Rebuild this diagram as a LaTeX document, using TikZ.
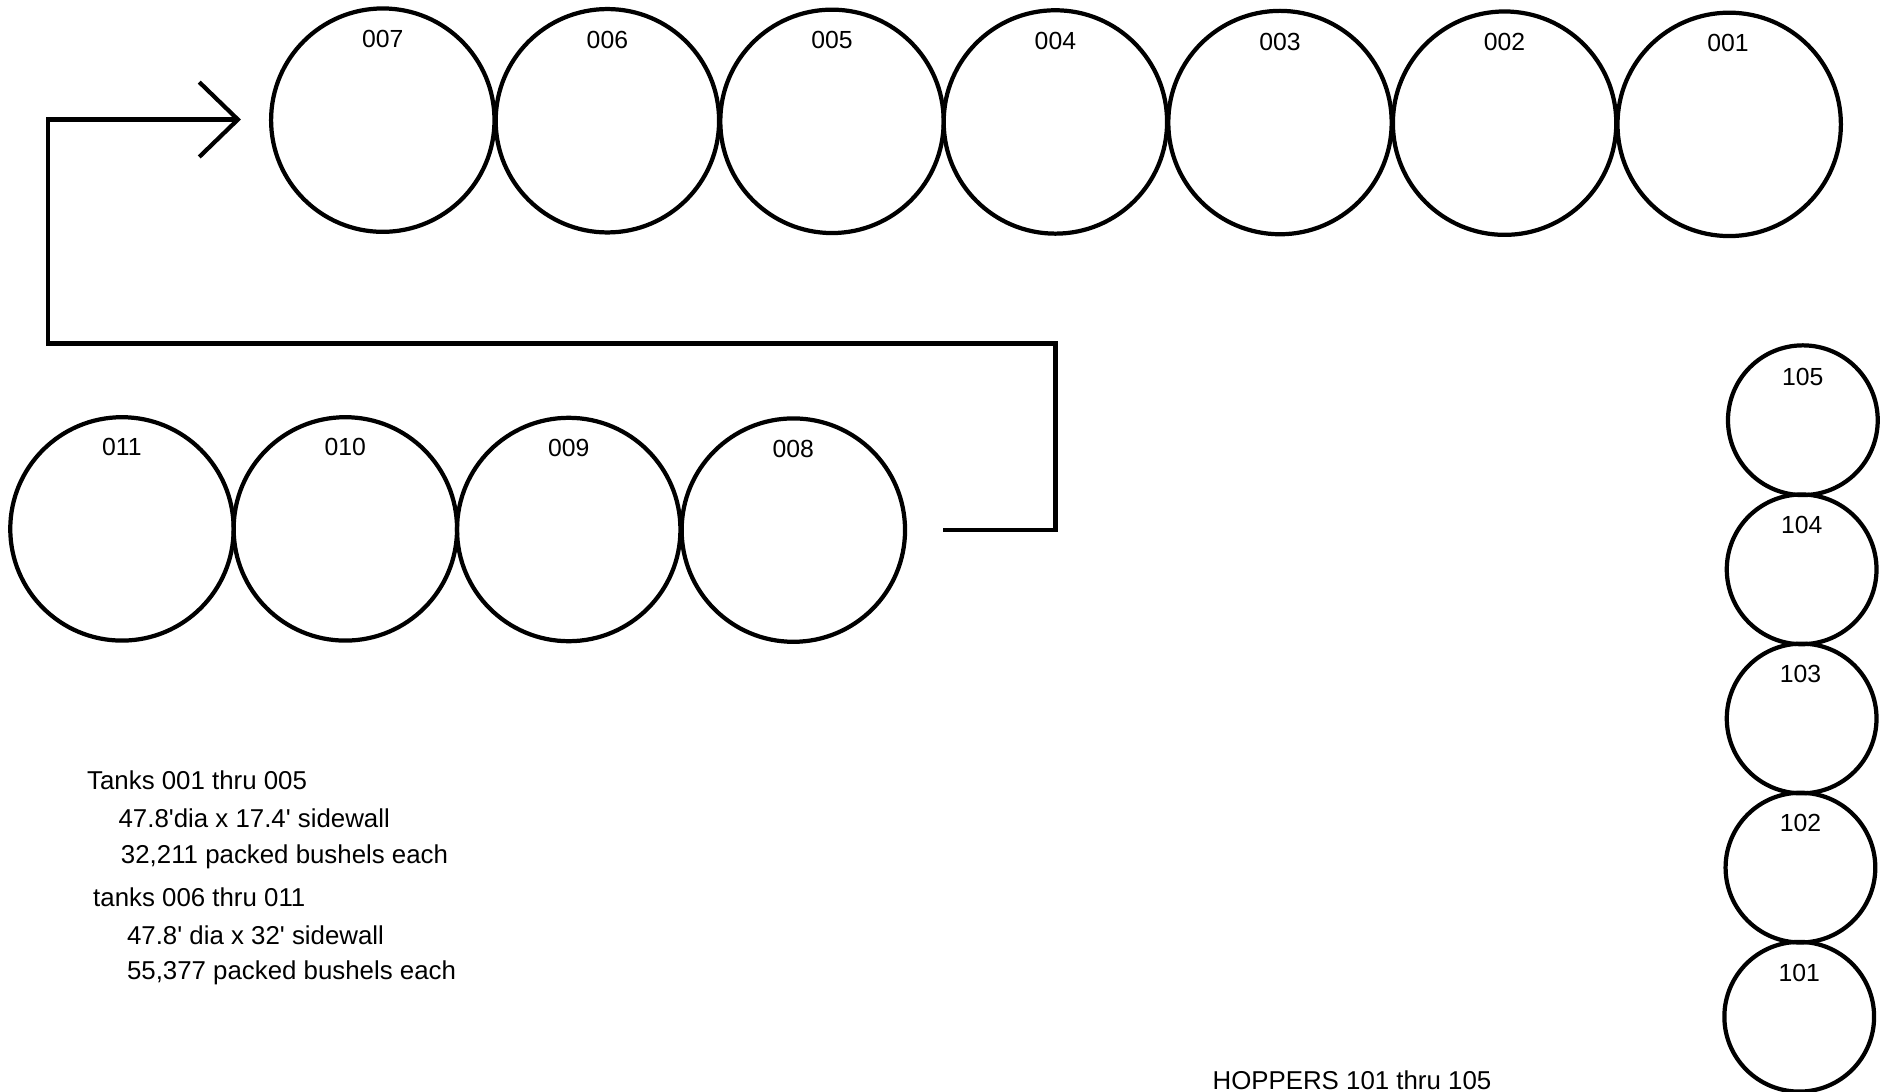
\documentclass[tikz,border=0pt]{standalone}
\usepackage{fontspec}
\setmainfont{Liberation Sans}
\begin{document}
\begin{tikzpicture}[x=1pt,y=-1pt,
  tank/.style={circle,draw,line width=3.5pt,minimum size=185pt,inner sep=0pt},
  hopper/.style={circle,draw,line width=3.5pt,minimum size=124pt,inner sep=0pt},
  lbl/.style={font=\fontsize{20.5}{24}\selectfont,inner sep=0pt,anchor=base},
  note/.style={font=\fontsize{21.4}{25}\selectfont,inner sep=0pt,anchor=base west},
  pipe/.style={line width=3.5pt,line join=miter}]
\useasboundingbox (0,0) rectangle (1566,903.5);
% top row
\node[tank] (t007) at (317,99.5) {};
\node[tank] (t006) at (503,100) {};
\node[tank] (t005) at (689,100.5) {};
\node[tank] (t004) at (874,101) {};
\node[tank] (t003) at (1060,101.5) {};
\node[tank] (t002) at (1246,102) {};
\node[tank] (t001) at (1432,103) {};
\node[lbl] (l007) at (317,39) {007};
\node[lbl] (l006) at (503,40) {006};
\node[lbl] (l005) at (689,40.5) {005};
\node[lbl] (l004) at (874,41) {004};
\node[lbl] (l003) at (1060,41.5) {003};
\node[lbl] (l002) at (1246,42) {002};
\node[lbl] (l001) at (1431,43) {001};
% bottom row
\node[tank] (t011) at (101,438) {};
\node[tank] (t010) at (286,438) {};
\node[tank] (t009) at (471,438.5) {};
\node[tank] (t008) at (657,439) {};
\node[lbl] (l011) at (101,377.5) {011};
\node[lbl] (l010) at (286,377.5) {010};
\node[lbl] (l009) at (471,378) {009};
\node[lbl] (l008) at (657,378.5) {008};
% hoppers
\node[hopper] (h105) at (1493,348) {};
\node[hopper] (h104) at (1492,471.5) {};
\node[hopper] (h103) at (1492,595) {};
\node[hopper] (h102) at (1491,718.5) {};
\node[hopper] (h101) at (1490,842) {};
\node[lbl] (l105) at (1493,319) {105};
\node[lbl] (l104) at (1492,442) {104};
\node[lbl] (l103) at (1491,565.5) {103};
\node[lbl] (l102) at (1491,689) {102};
\node[lbl] (l101) at (1490,812.5) {101};
% conveyor path
\coordinate (pstart) at (781,439);
\coordinate (c1) at (874,439);
\coordinate (c2) at (874,284.5);
\coordinate (c3) at (39.5,284.5);
\coordinate (c4) at (39.5,99);
\coordinate (tip) at (197,99);
\coordinate (barbA) at (165,68);
\coordinate (barbB) at (165,130);
\draw[pipe] (pstart) -- (c1) -- (c2) -- (c3) -- (c4) -- (tip);
\draw[pipe] (barbA) -- (tip) -- (barbB);
% notes
\node[note] (n1) at (72,653.5) {Tanks 001 thru 005};
\node[note] (n2) at (98,685.5) {47.8\textquotesingle dia x 17.4\textquotesingle{} sidewall};
\node[note] (n3) at (100,715.5) {32,211 packed bushels each};
\node[note] (n4) at (77,750.5) {tanks 006 thru 011};
\node[note] (n5) at (105,782.5) {47.8\textquotesingle{} dia x 32\textquotesingle{} sidewall};
\node[note] (n6) at (105,811.5) {55,377 packed bushels each};
\node[note] (n7) at (1004,902) {HOPPERS 101 thru 105};
\end{tikzpicture}
\end{document}
